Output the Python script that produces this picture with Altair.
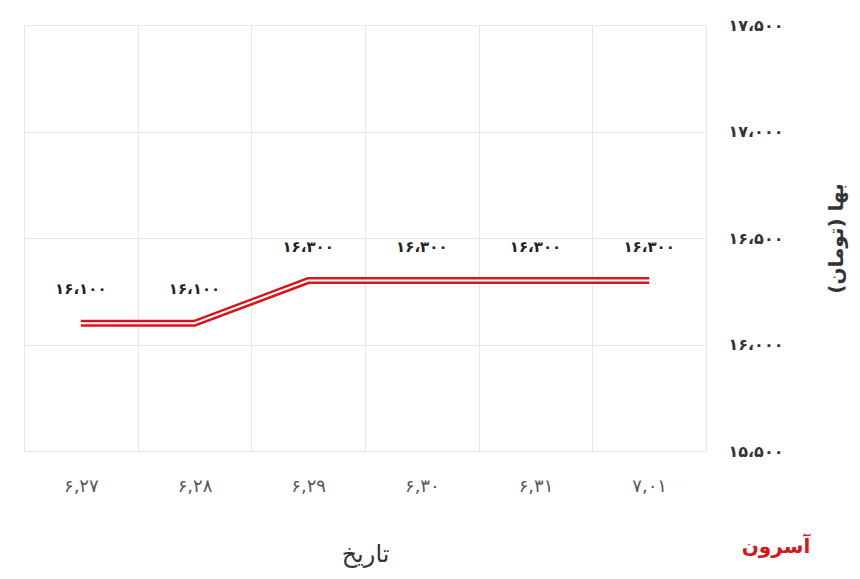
import altair as alt
import pandas as pd

dates = ["۶,۲۷", "۶,۲۸", "۶,۲۹", "۶,۳۰", "۶,۳۱", "۷,۰۱"]
prices = [16100, 16100, 16300, 16300, 16300, 16300]
y_ticks = [15500, 16000, 16500, 17000, 17500]

FA = str.maketrans("0123456789,", "۰۱۲۳۴۵۶۷۸۹،")


def fa_num(v):
    return f"{v:,}".translate(FA)


df = pd.DataFrame({"date": dates, "price": prices,
                   "label": [fa_num(p) for p in prices]})

label_expr = " : ".join(
    [f"datum.value == {t} ? '{fa_num(t)}'" for t in y_ticks]) + " : ''"

FONT = "DejaVu Sans"

x_enc = alt.X("date:N", sort=dates, title="تاریخ",
              scale=alt.Scale(paddingInner=0, paddingOuter=0),
              axis=alt.Axis(labelAngle=0, tickBand="extent", grid=True,
                            gridColor="#e6e6e6", domainColor="#e6e6e6",
                            ticks=False, labelPadding=26, labelFontSize=18,
                            labelFont=FONT, labelFontWeight="normal",
                            labelColor="#555", titleFont=FONT,
                            titleFontSize=24, titleFontWeight="normal",
                            titleColor="#333", titlePadding=47))
y_enc = alt.Y("price:Q", title="بها (تومان)",
              scale=alt.Scale(domain=[15500, 17500], nice=False),
              axis=alt.Axis(orient="right", values=y_ticks,
                            labelExpr=label_expr, grid=True,
                            gridColor="#e6e6e6", domain=False, ticks=False,
                            labelPadding=22, labelFontSize=16, labelFont=FONT,
                            labelFontWeight="bold", labelColor="#333",
                            titleFont=FONT, titleFontSize=20,
                            titleFontWeight="bold", titleColor="#333",
                            titleAngle=270, titlePadding=64))

base = alt.Chart(df).encode(x=x_enc, y=y_enc)

outer = base.mark_line(color="#d9151b", strokeWidth=7)
inner = base.mark_line(color="white", strokeWidth=2)
labels = base.mark_text(dy=-34, fontSize=15, font=FONT, fontWeight="bold",
                        color="#222").encode(text="label:N")

logo = alt.Chart(pd.DataFrame({"t": ["آسرون"]})).mark_text(
    fontSize=20, font=FONT, fontWeight="bold", color="#d9151b"
).encode(x=alt.value(752), y=alt.value(522), text="t:N")

chart = alt.layer(outer, inner, labels, logo).properties(
    width=682, height=426,
    padding={"left": 16, "top": 9, "right": 2, "bottom": 5}
).configure_view(stroke=None)

chart.save("out.html", embed_options={"renderer": "svg", "actions": False})
